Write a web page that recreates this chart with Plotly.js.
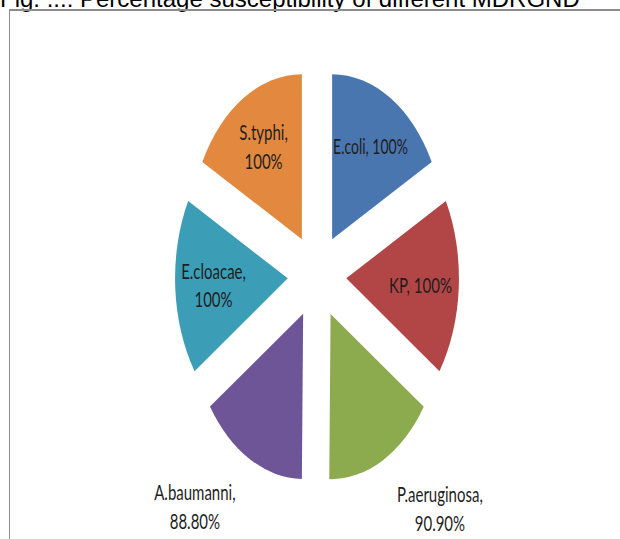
<!DOCTYPE html>
<html><head><meta charset="utf-8">
<script src="https://cdn.plot.ly/plotly-3.0.1.min.js"></script>
<style>
html,body{margin:0;padding:0;width:620px;height:539px;overflow:hidden;background:#fff;}
#title{position:absolute;left:0;top:-15px;font-family:"Liberation Sans",Arial,sans-serif;font-size:24px;white-space:nowrap;color:#000;}
#frame{position:absolute;left:9px;top:9px;width:640px;height:560px;border-left:1px solid #8c8c8c;border-top:2px solid #8c8c8c;}
#chart{position:absolute;left:0;top:-17px;width:620px;height:400px;transform:scaleY(1.465);transform-origin:0 0;}
</style></head>
<body>
<div id="title">Fig. ...: Percentage susceptibility of different MDRGND</div>
<div id="frame"></div>
<div id="chart"></div>
<script>
const categories = ['E.coli', 'KP', 'P.aeruginosa', 'A.baumanni', 'E.cloacae', 'S.typhi'];
const susceptibility = [100, 100, 90.9, 88.8, 100, 100];
const valueLabels = ['100%', '100%', '90.90%', '88.80%', '100%', '100%'];
const labelSeparators = [', ', ', ', ',<br>', ',<br>', ',<br>', ',<br>'];
const labelPrefixes = ['', '', '&nbsp;<br>', '&nbsp;<br>', '', ''];
const sliceColors = ['#4A76B0', '#B24646', '#8CAA4E', '#6E5597', '#3C9DB6', '#E2893F'];
const labelPositions = ['inside', 'inside', 'outside', 'outside', 'inside', 'inside'];

const texts = categories.map((c, i) => labelPrefixes[i] + c + labelSeparators[i] + valueLabels[i]);

Plotly.newPlot('chart', [{
  type: 'pie',
  labels: categories,
  values: susceptibility,
  text: texts,
  textinfo: 'text',
  textposition: labelPositions,
  insidetextorientation: 'horizontal',
  sort: false,
  direction: 'clockwise',
  rotation: 0,
  pull: 0.26,
  marker: {colors: sliceColors, line: {width: 0}},
  textfont: {family: 'Lato, "Open Sans", sans-serif', size: 15, color: '#1e1e1e'},
  domain: {x: [0.2823, 0.7403], y: [0.145, 0.855]},
  hoverinfo: 'none'
}], {
  width: 620, height: 400,
  margin: {l: 0, r: 0, t: 0, b: 0},
  paper_bgcolor: 'rgba(0,0,0,0)',
  plot_bgcolor: 'rgba(0,0,0,0)',
  showlegend: false
}, {displayModeBar: false, staticPlot: true});
</script>
</body></html>
